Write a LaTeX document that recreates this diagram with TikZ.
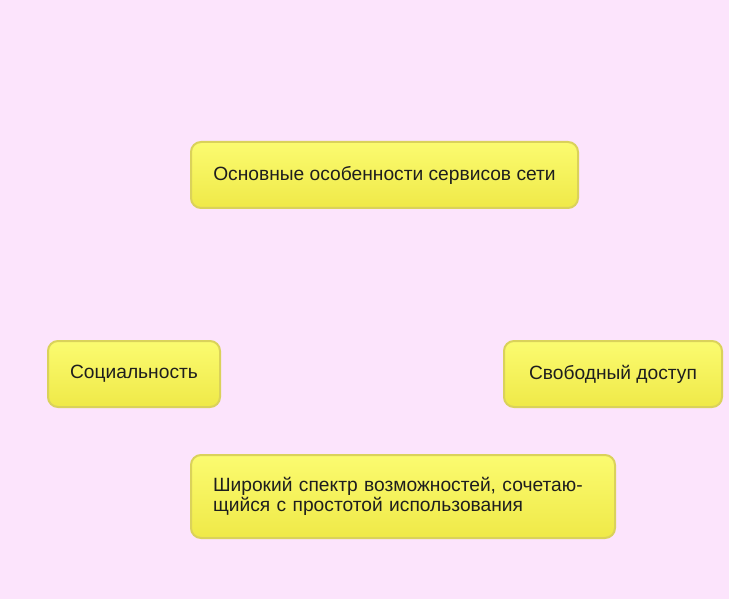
\documentclass[tikz,border=0pt]{standalone}
\usepackage{fontspec}
\setmainfont{Liberation Sans}
\definecolor{bgpink}{HTML}{FCE4FC}
\definecolor{boxtop}{HTML}{FBFB70}
\definecolor{boxbot}{HTML}{EFE948}
\definecolor{boxline}{HTML}{DAD25A}
\definecolor{txt}{HTML}{1E1E1E}
\begin{document}
\begin{tikzpicture}[x=1pt,y=-1pt,
  ybox/.style={draw=boxline, line width=2pt, rounded corners=10pt,
    top color=boxtop, bottom color=boxbot, text=txt,
    font=\fontsize{19.2pt}{19.5pt}\selectfont, inner sep=0pt, anchor=north west}]
\fill[bgpink] (0,0) rectangle (729,599);
\useasboundingbox (0,0) rectangle (729,599);
\node[ybox, minimum width=387pt, minimum height=66pt] (main) at (190,141) {Основные особенности сервисов сети};
\node[ybox, minimum width=172pt, minimum height=66pt] (soc) at (47,340) {Социальность};
\node[ybox, minimum width=218pt, minimum height=66pt] (free) at (503,340) {Свободный доступ};
\node[ybox, minimum width=424pt, minimum height=83pt, text width=380pt, align=left] (wide) at (190,454) {Широкий спектр возможностей, сочетаю-\\щийся с простотой использования};
\end{tikzpicture}
\end{document}
